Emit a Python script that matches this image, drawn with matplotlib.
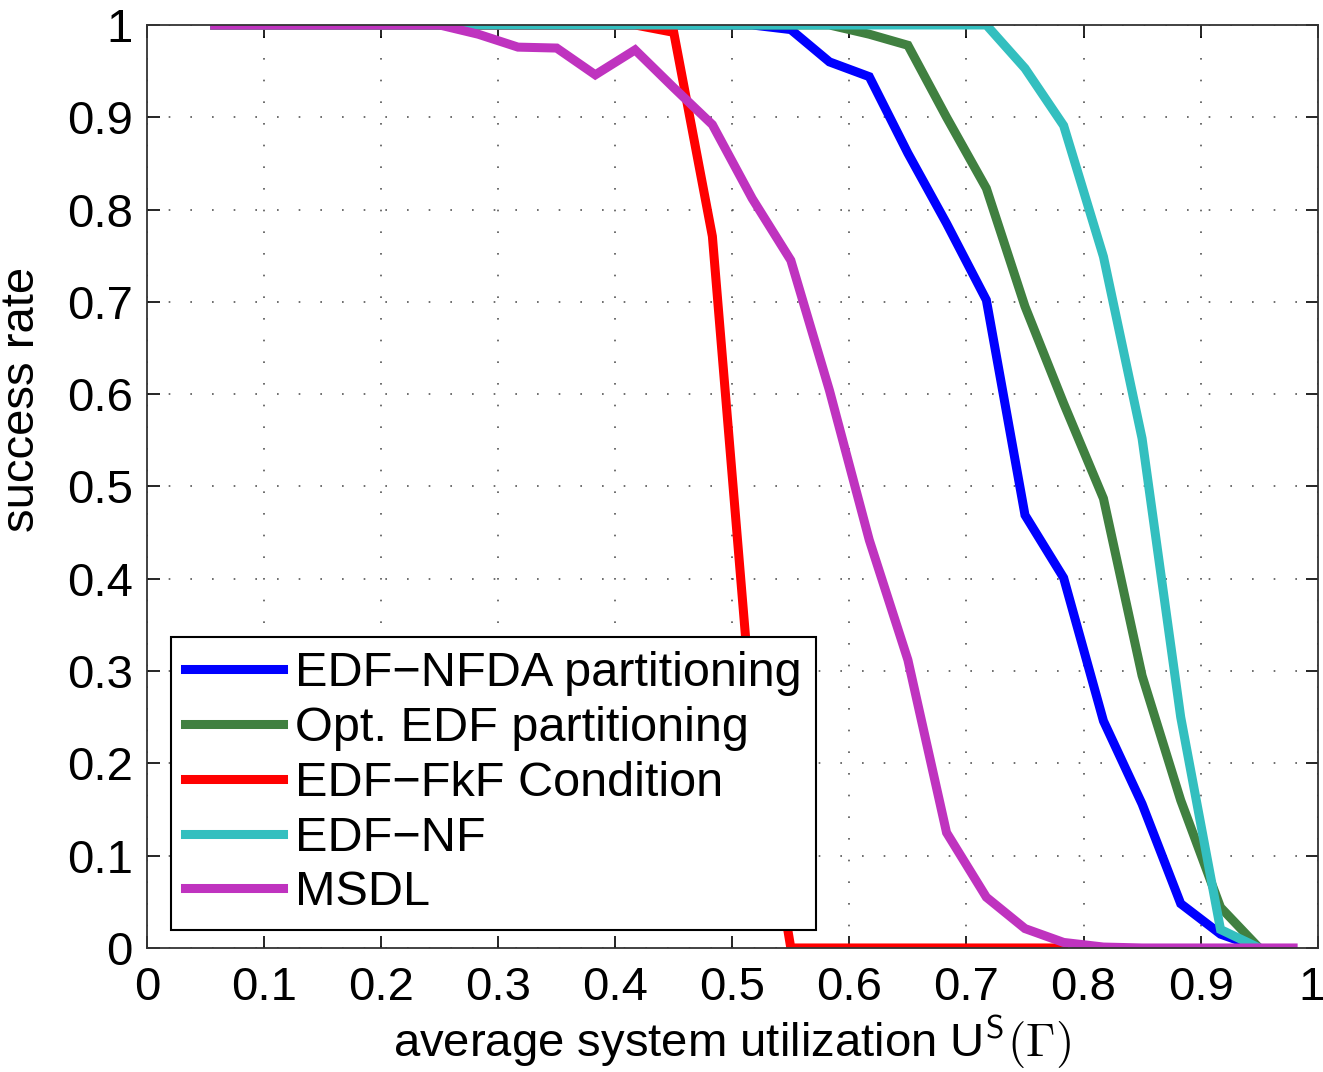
import numpy as np
import matplotlib
matplotlib.use('Agg')
import matplotlib.pyplot as plt
import matplotlib.transforms as mtrans

plt.rcParams['font.family'] = ['Liberation Sans', 'DejaVu Sans']
plt.rcParams['mathtext.fontset'] = 'cm'

# average utilization (x) shared by all curves
u = [0.058, 0.083, 0.117, 0.15, 0.183, 0.217, 0.25, 0.283, 0.317, 0.35,
     0.383, 0.417, 0.45, 0.483, 0.517, 0.55, 0.583, 0.617, 0.65, 0.683,
     0.717, 0.75, 0.783, 0.817, 0.85, 0.883, 0.917, 0.95, 0.979]

nfda = [1, 1, 1, 1, 1, 1, 1, 1, 1, 1,
        1, 1, 1, 1, 1.0, 0.995, 0.96, 0.944, 0.861, 0.785,
        0.702, 0.469, 0.401, 0.246, 0.156, 0.048, 0.015, 0.0]
opt = [1, 1, 1, 1, 1, 1, 1, 1, 1, 1,
       1, 1, 1, 1, 1, 1, 1.0, 0.99, 0.978, 0.90,
       0.823, 0.695, 0.59, 0.487, 0.295, 0.16, 0.044, 0.0]
fkf = [1, 1, 1, 1, 1, 1, 1, 1, 1, 1,
       1, 1.0, 0.992, 0.771, 0.25, 0.0, 0.0, 0.0, 0.0, 0.0,
       0.0, 0.0, 0.0]
nf = [1, 1, 1, 1, 1, 1, 1, 1, 1, 1,
      1, 1, 1, 1, 1, 1, 1, 1, 1, 1,
      1.0, 0.953, 0.891, 0.749, 0.552, 0.25, 0.02, 0.0]
msdl = [1, 1, 1, 1, 1, 1, 1.0, 0.99, 0.976, 0.975,
        0.946, 0.973, 0.932, 0.892, 0.812, 0.745, 0.604, 0.442, 0.312, 0.125,
        0.055, 0.021, 0.006, 0.001, 0, 0, 0, 0, 0]

names = ['EDF\u2212NFDA partitioning', 'Opt. EDF partitioning',
         'EDF\u2212FkF Condition', 'EDF\u2212NF', 'MSDL']
colors = ['#0000ff', '#408040', '#ff0000', '#33bfbf', '#bf33bf']
series = [nfda, opt, fkf, nf, msdl]

fig = plt.figure(figsize=(13.23, 10.72), dpi=100)
ax = fig.add_axes([0.111, 0.1157, 0.885, 0.861])

for ys, c, n in zip(series, colors, names):
    ax.plot(u[:len(ys)], ys, color=c, lw=6.5, label=n, solid_joinstyle='miter')

ax.set_xlim(0, 1)
ax.set_ylim(0, 1)
ticks = np.arange(0, 1.01, 0.1)
labels = ['0'] + ['%.1f' % t for t in ticks[1:-1]] + ['1']
ax.set_xticks(ticks)
ax.set_xticklabels(labels)
ax.set_yticks(ticks)
ax.set_yticklabels(labels)
ax.tick_params(direction='in', length=9, width=1.2, labelsize=34,
               top=True, right=True)
ax.tick_params(axis='x', pad=13)
ax.tick_params(axis='y', pad=10)
# keep the last x label inside the figure
last = ax.get_xticklabels()[-1]
last.set_transform(last.get_transform() + mtrans.ScaledTranslation(-6/100, 0, fig.dpi_scale_trans))

ax.grid(True, linestyle=(0, (1, 12)), color='#555555', lw=1.2)
for s in ax.spines.values():
    s.set_linewidth(1.3)
    s.set_color('#333333')

ax.set_xlabel('average system utilization U$^{\\mathsf{S}}(\\Gamma)$', fontsize=34, labelpad=2)
ax.set_ylabel('success rate', fontsize=34)
ax.yaxis.set_label_coords(-0.088, 0.594)

leg = ax.legend(loc='lower left', bbox_to_anchor=(0.0205, 0.0195), fontsize=35,
                frameon=True, fancybox=False, handlelength=2.0, handletextpad=0.25,
                labelspacing=0.2, borderpad=0.3, borderaxespad=0)
leg.get_frame().set_edgecolor('black')
leg.get_frame().set_linewidth(1.5)
leg.get_frame().set_alpha(1)

fig.savefig('out.png', dpi=100)
